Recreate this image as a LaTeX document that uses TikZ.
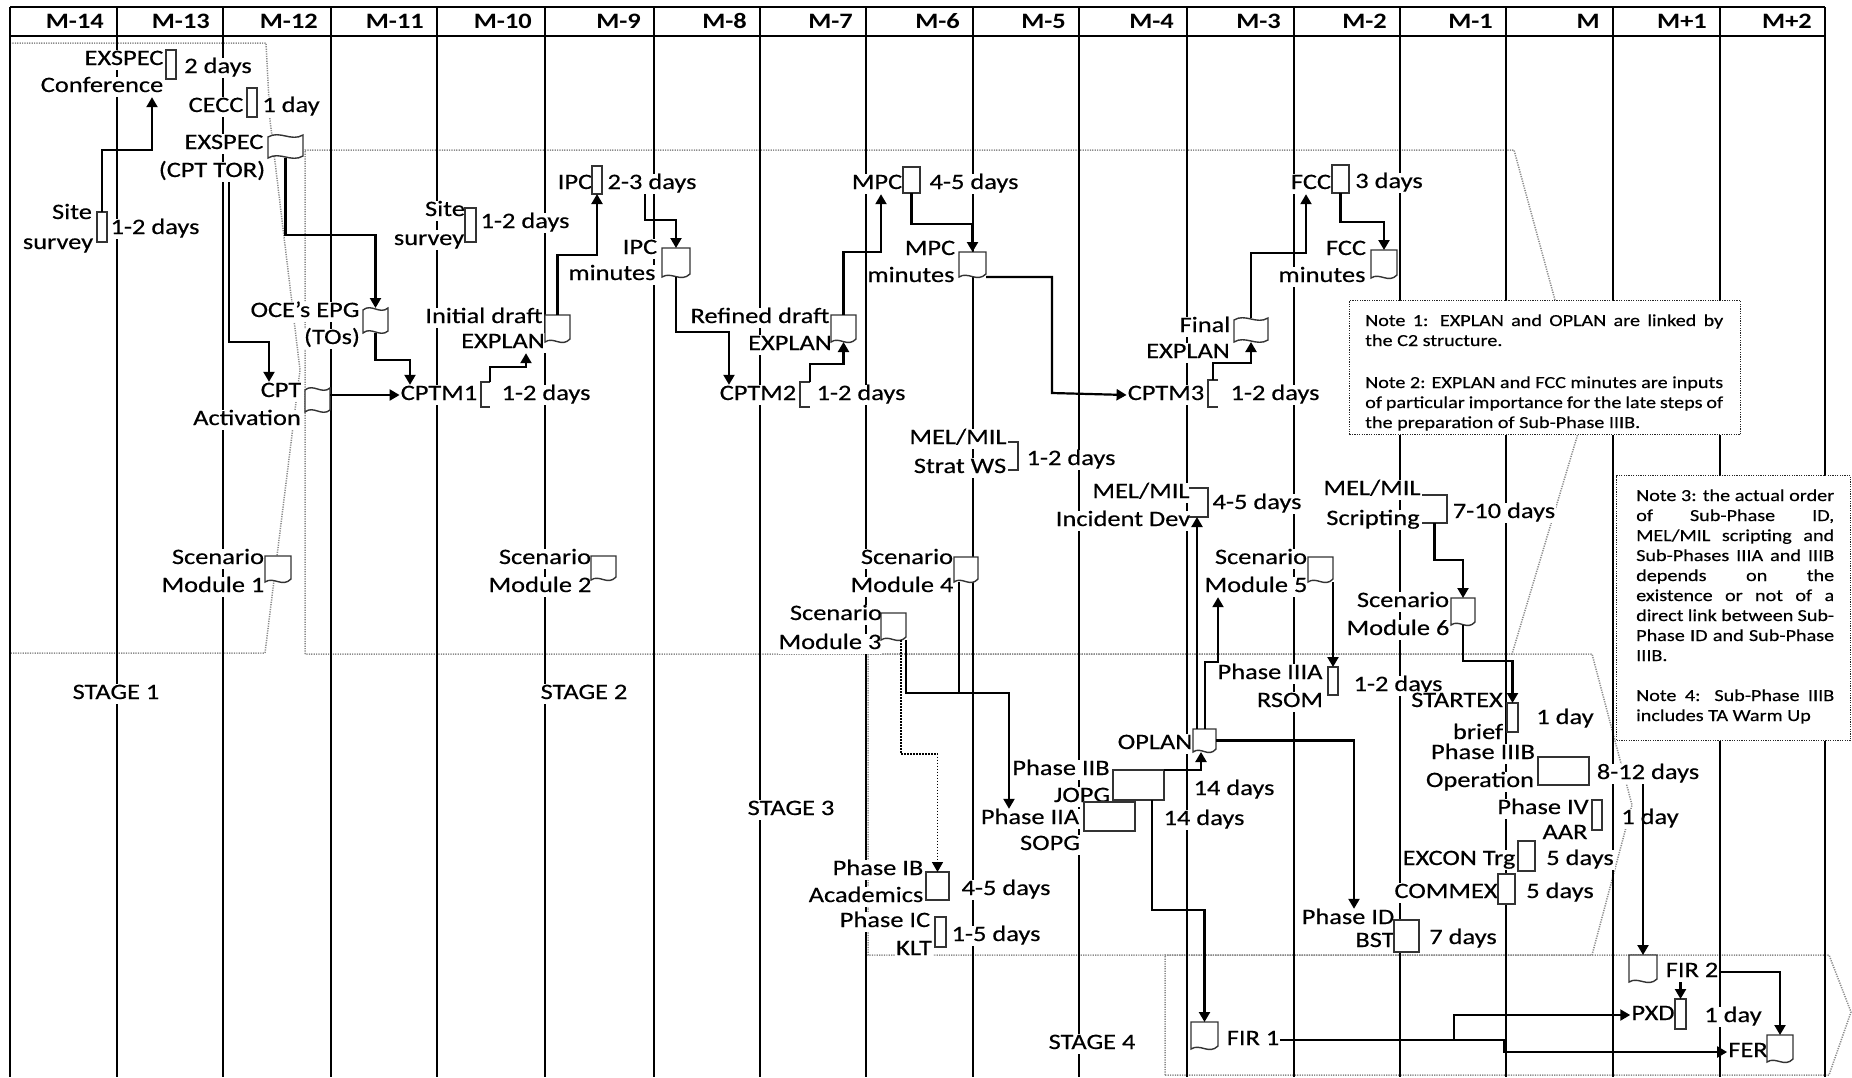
\documentclass[tikz,border=0pt]{standalone}
\usepackage{fontspec}
\setmainfont{Carlito}[FakeStretch=1.2,UprightFeatures={FakeBold=0.4}]
\usetikzlibrary{arrows.meta}
\tikzset{
 lbl/.style={fill=white, inner sep=1pt, yshift=-2pt, font=\fontsize{22}{26}\selectfont, text height=14pt, text depth=4pt},
 hdr/.style={inner sep=0pt, anchor=base east, font=\fontsize{22}{26}\selectfont\bfseries},
 notetxt/.style={inner sep=0pt, anchor=base west, font=\fontsize{16.8}{20}\selectfont},
 conn/.style={line width=2.2pt, black},
 arr/.style={conn, -{Triangle[length=10pt,width=11pt]}},
 dotarr/.style={arr, line width=1.6pt, dash pattern=on 1.5pt off 1.5pt},
 shp/.style={line width=1.4pt, draw=black!80, fill=white},
 ghost/.style={inner sep=0pt, outer sep=0pt, draw=none},
 colline/.style={line width=1.8pt, black},
 stage/.style={black!45, line width=1.5pt, dash pattern=on 1.2pt off 1.2pt},
 note/.style={draw=black!85, line width=1.3pt, dash pattern=on 1.2pt off 1.2pt, fill=white, inner sep=0pt, anchor=north west},
}
\newcommand\mkGhost[5]{\node[ghost, minimum width={(#4)-(#2)}, minimum height={(#5)-(#3)}] (#1) at ({((#2)+(#4))/2},{((#3)+(#5))/2}) {};}
\newcommand\mkRect[5]{\filldraw[shp] (#2,#3) rectangle (#4,#5); \mkGhost{#1}{#2}{#3}{#4}{#5}}
\newcommand\mkDoc[5]{\filldraw[shp] (#2,#3) -- (#4,#3) -- (#4,{#5-3}) .. controls ({#4-((#4)-(#2))/3},{#5+6}) and ({#2+((#4)-(#2))/3},{#5-6}) .. (#2,#5) -- cycle; \mkGhost{#1}{#2}{#3}{#4}{#5}}
\newcommand\mkFlag[5]{\filldraw[shp] (#2,{#3+2}) .. controls ({#2+((#4)-(#2))/3},{#3-5}) and ({#4-((#4)-(#2))/3},{#3+7}) .. (#4,#3) -- (#4,{#5-2}) .. controls ({#4-((#4)-(#2))/3},{#5+5}) and ({#2+((#4)-(#2))/3},{#5-7}) .. (#2,#5) -- cycle; \mkGhost{#1}{#2}{#3}{#4}{#5}}
\newcommand\mkBrL[5]{\draw[shp,fill=none] (#4,#3) -- (#2,#3) -- (#2,#5) -- (#4,#5); \mkGhost{#1}{#2}{#3}{#4}{#5}}
\newcommand\mkBrR[5]{\draw[shp,fill=none] (#2,#3) -- (#4,#3) -- (#4,#5) -- (#2,#5); \mkGhost{#1}{#2}{#3}{#4}{#5}}
\newcommand\lb[4]{\node[lbl] (#1) at (#2,#3) {#4};}
\begin{document}
\begin{tikzpicture}[x=1pt,y=-1pt]
\fill[white] (0,0) rectangle (1852,1077);
\useasboundingbox (0,0) rectangle (1852,1077);

% stages
\draw[stage] (10,43) -- (266,43) -- (270,120) -- (300,370) -- (265,653) -- (10,653);
\draw[stage] (305,654) -- (305,150) -- (1514,150) -- (1585,410) -- (1512,654) -- cycle;
\draw[stage] (868,654) -- (1592,654) -- (1632,805) -- (1592,955) -- (868,955) -- cycle;
\draw[stage] (1165,1075) -- (1165,955) -- (1829,955) -- (1851,1012) -- (1829,1075) -- cycle;

% grid
\foreach \x in {10,117,223,331,437,545,654,760,866,973,1079,1187,1294,1400,1506,1613,1720,1825}
  \draw[colline] (\x,7) -- (\x,1077);
\draw[colline] (10,7) -- (1825,7);
\draw[colline] (10,36) -- (1825,36);
\foreach \x/\t [count=\i] in {104/M-14,210/M-13,318/M-12,424/M-11,532/M-10,641/M-9,747/M-8,853/M-7,960/M-6,1066/M-5,1174/M-4,1281/M-3,1387/M-2,1493/M-1,1600/M,1707/M+1,1812/M+2}
  \node[hdr] (h\i) at (\x,28) {\t};

% notes
\node[note, minimum width=391pt, minimum height=134pt] (nb1) at (1349,300) {};
\node[note, minimum width=234pt, minimum height=265pt] (nb2) at (1616,475) {};
\node[notetxt] (n1) at (1365,326) {\makebox[358pt][s]{Note 1: EXPLAN and OPLAN are linked by}};
\node[notetxt] (n2) at (1365,346) {the C2 structure.};
\node[notetxt] (n3) at (1365,388) {\makebox[358pt][s]{Note 2: EXPLAN and FCC minutes are inputs}};
\node[notetxt] (n4) at (1365,408) {\makebox[358pt][s]{of particular importance for the late steps of}};
\node[notetxt] (n5) at (1365,428) {the preparation of Sub-Phase IIIB.};
\node[notetxt] (m1) at (1636,501) {\makebox[198pt][s]{Note 3: the actual order}};
\node[notetxt] (m2) at (1636,521) {\makebox[198pt][s]{of Sub-Phase ID,}};
\node[notetxt] (m3) at (1636,541) {\makebox[198pt][s]{MEL/MIL scripting and}};
\node[notetxt] (m4) at (1636,561) {\makebox[198pt][s]{Sub-Phases IIIA and IIIB}};
\node[notetxt] (m5) at (1636,581) {\makebox[198pt][s]{depends on the}};
\node[notetxt] (m6) at (1636,601) {\makebox[198pt][s]{existence or not of a}};
\node[notetxt] (m7) at (1636,621) {\makebox[198pt][s]{direct link between Sub-}};
\node[notetxt] (m8) at (1636,641) {\makebox[198pt][s]{Phase ID and Sub-Phase}};
\node[notetxt] (m9) at (1636,661) {IIIB.};
\node[notetxt] (m10) at (1636,701) {\makebox[198pt][s]{Note 4: Sub-Phase IIIB}};
\node[notetxt] (m11) at (1636,721) {includes TA Warm Up};

% labels
\lb{tExspec1}{124}{58}{EXSPEC}
\lb{tConf}{102}{85}{Conference}
\lb{tConfD}{218}{66}{2 days}
\lb{tSiteA}{72}{212}{Site}
\lb{tSiteB}{58}{242}{survey}
\lb{tSiteD}{155}{227}{1-2 days}
\lb{tCECC}{216}{105}{CECC}
\lb{tCECCD}{291}{105}{1 day}
\lb{tExspec2}{224}{142}{EXSPEC}
\lb{tTOR}{212}{170}{(CPT TOR)}
\lb{tOCEa}{305}{310}{OCE’s EPG}
\lb{tOCEb}{332}{337}{(TOs)}
\lb{tCPT}{281}{390}{CPT}
\lb{tCPTb}{247}{418}{Activation}
\lb{tSite2a}{445}{209}{Site}
\lb{tSite2b}{429}{238}{survey}
\lb{tSite2D}{525}{221}{1-2 days}
\lb{tInitA}{484}{316}{Initial draft}
\lb{tExplan1}{503}{341}{EXPLAN}
\lb{tIPC}{575}{182}{IPC}
\lb{tIPCD}{652}{182}{2-3 days}
\lb{tIPCm1}{640}{247}{IPC}
\lb{tIPCm2}{612}{273}{minutes}
\lb{tCPTM1}{439}{393}{CPTM1}
\lb{tCPTM1D}{546}{393}{1-2 days}
\lb{tRefA}{760}{316}{Refined draft}
\lb{tExplan2}{790}{343}{EXPLAN}
\lb{tCPTM2}{758}{393}{CPTM2}
\lb{tCPTM2D}{861}{393}{1-2 days}
\lb{tMPC}{877}{182}{MPC}
\lb{tMPCD}{974}{182}{4-5 days}
\lb{tMPCm1}{930}{248}{MPC}
\lb{tMPCm2}{911}{275}{minutes}
\lb{tCPTM3}{1166}{393}{CPTM3}
\lb{tCPTM3D}{1275}{393}{1-2 days}
\lb{tFinal}{1205}{325}{Final}
\lb{tExplan3}{1188}{351}{EXPLAN}
\lb{tFCC}{1311}{182}{FCC}
\lb{tFCCD}{1389}{181}{3 days}
\lb{tFCCm1}{1346}{248}{FCC}
\lb{tFCCm2}{1322}{275}{minutes}
\lb{tStratA}{958}{437}{MEL/MIL}
\lb{tStratB}{960}{466}{Strat WS}
\lb{tStratD}{1071}{458}{1-2 days}
\lb{tIncA}{1141}{491}{MEL/MIL}
\lb{tIncB}{1123}{519}{Incident Dev}
\lb{tIncD}{1257}{502}{4-5 days}
\lb{tScrA}{1372}{488}{MEL/MIL}
\lb{tScrB}{1373}{518}{Scripting}
\lb{tScrD}{1504}{511}{7-10 days}
\lb{tM1a}{218}{557}{Scenario}
\lb{tM1b}{213}{585}{Module 1}
\lb{tM2a}{545}{557}{Scenario}
\lb{tM2b}{540}{585}{Module 2}
\lb{tM4a}{907}{557}{Scenario}
\lb{tM4b}{902}{585}{Module 4}
\lb{tM3a}{836}{613}{Scenario}
\lb{tM3b}{830}{642}{Module 3}
\lb{tM5a}{1261}{557}{Scenario}
\lb{tM5b}{1256}{585}{Module 5}
\lb{tM6a}{1403}{600}{Scenario}
\lb{tM6b}{1398}{628}{Module 6}
\lb{tIIIAa}{1270}{672}{Phase IIIA}
\lb{tIIIAb}{1290}{700}{RSOM}
\lb{tIIIAD}{1398}{684}{1-2 days}
\lb{tSTXa}{1457}{700}{STARTEX}
\lb{tSTXb}{1478}{732}{brief}
\lb{tSTXD}{1565}{717}{1 day}
\lb{tIIIBa}{1483}{752}{Phase IIIB}
\lb{tIIIBb}{1480}{780}{Operation}
\lb{tIIIBD}{1648}{772}{8-12 days}
\lb{tIVa}{1543}{807}{Phase IV}
\lb{tIVb}{1565}{832}{AAR}
\lb{tIVD}{1650}{817}{1 day}
\lb{tEXCON}{1459}{858}{EXCON Trg}
\lb{tEXCOND}{1580}{858}{5 days}
\lb{tCOMMEX}{1446}{891}{COMMEX}
\lb{tCOMMEXD}{1560}{891}{5 days}
\lb{tIDa}{1348}{917}{Phase ID}
\lb{tIDb}{1375}{940}{BST}
\lb{tIDD}{1463}{937}{7 days}
\lb{tOPLAN}{1155}{742}{OPLAN}
\lb{tIIBa}{1061}{768}{Phase IIB}
\lb{tIIBb}{1082}{795}{JOPG}
\lb{tIIBD}{1234}{788}{14 days}
\lb{tIIAa}{1030}{817}{Phase IIA}
\lb{tIIAb}{1050}{843}{SOPG}
\lb{tIIAD}{1204}{818}{14 days}
\lb{tIBa}{878}{868}{Phase IB}
\lb{tIBb}{866}{895}{Academics}
\lb{tIBD}{1006}{888}{4-5 days}
\lb{tICa}{885}{920}{Phase IC}
\lb{tICb}{914}{948}{KLT}
\lb{tICD}{996}{934}{1-5 days}
\lb{tFIR1}{1253}{1038}{FIR 1}
\lb{tFIR2}{1692}{970}{FIR 2}
\lb{tPXD}{1653}{1013}{PXD}
\lb{tPXDD}{1733}{1015}{1 day}
\lb{tFER}{1748}{1050}{FER}
\lb{s1}{116}{692}{STAGE 1}
\lb{s2}{584}{692}{STAGE 2}
\lb{s3}{791}{808}{STAGE 3}
\lb{s4}{1092}{1042}{STAGE 4}

% shapes
\mkRect{bConf}{166}{50}{176}{79}
\mkRect{bCECC}{247}{88}{257}{117}
\mkRect{bSite1}{97}{212}{107}{242}
\mkRect{bSite2}{465}{208}{476}{242}
\mkRect{bIPC}{592}{166}{602}{194}
\mkRect{bMPC}{903}{167}{920}{193}
\mkRect{bFCC}{1332}{165}{1349}{193}
\mkRect{bIIIA}{1328}{667}{1338}{695}
\mkRect{bSTX}{1507}{703}{1518}{732}
\mkRect{bIIIB}{1538}{757}{1589}{785}
\mkRect{bIV}{1592}{800}{1602}{830}
\mkRect{bEXCON}{1518}{841}{1535}{871}
\mkRect{bCOMMEX}{1498}{874}{1515}{904}
\mkRect{bID}{1394}{920}{1419}{952}
\mkRect{bIIB}{1113}{770}{1164}{800}
\mkRect{bIIA}{1084}{802}{1135}{831}
\mkRect{bIB}{926}{872}{949}{900}
\mkRect{bIC}{935}{917}{946}{947}
\mkRect{bPXD}{1675}{999}{1686}{1029}
\mkDoc{dM1}{265}{556}{291}{582}
\mkDoc{dM2}{591}{556}{616}{580}
\mkDoc{dM3}{881}{613}{906}{640}
\mkDoc{dM4}{954}{557}{978}{582}
\mkDoc{dM5}{1308}{557}{1333}{582}
\mkDoc{dM6}{1451}{598}{1475}{625}
\mkDoc{dInit}{545}{315}{570}{342}
\mkDoc{dRef}{831}{315}{856}{342}
\mkDoc{dIPCm}{662}{248}{690}{277}
\mkDoc{dMPCm}{959}{252}{986}{277}
\mkDoc{dFCCm}{1371}{250}{1397}{278}
\mkDoc{dFIR1}{1191}{1022}{1218}{1049}
\mkDoc{dFIR2}{1629}{955}{1657}{982}
\mkDoc{dFER}{1767}{1035}{1793}{1062}
\mkDoc{dOPLAN}{1193}{729}{1216}{752}
\mkFlag{fEXSPEC}{268}{135}{303}{158}
\mkFlag{fOCE}{363}{308}{388}{333}
\mkFlag{fCPT}{305}{388}{330}{412}
\mkFlag{fFinal}{1234}{318}{1268}{342}
\mkBrL{kCPTM1}{481}{382}{490}{407}
\mkBrL{kCPTM2}{800}{382}{810}{407}
\mkBrL{kCPTM3}{1208}{380}{1218}{407}
\mkBrR{kStrat}{1008}{442}{1018}{470}
\mkBrR{kInc}{1189}{488}{1208}{517}
\mkBrR{kScript}{1422}{495}{1447}{523}

% connectors
\draw[arr] (bSite1.north) |- (152,150) -- (152,150 |- tConf.south);
\draw[arr] (fEXSPEC.south) |- (fOCE.north |- 0,235) -- (fOCE.north);
\draw[arr] (229,0 |- tTOR.south) |- (269,342) -- (269,0 |- tCPT.north);
\draw[arr] (fOCE.south) |- (410,360) -- (410,0 |- tCPTM1.north);
\draw[arr] (fCPT.east |- tCPTM1.west) -- (tCPTM1.west);
\draw[arr] (kCPTM1.north east) |- (526,367) -- (526,0 |- tExplan1.south);
\draw[arr] (dInit.north) |- (bIPC.south |- 0,255) -- (bIPC.south);
\draw[arr] (645,0 |- tIPCD.south) |- (dIPCm.north |- 0,220) -- (dIPCm.north);
\draw[arr] (dIPCm.south) |- (729,332) -- (729,0 |- tCPTM2.north);
\draw[arr] (kCPTM2.north east) |- (dRef.south |- 0,364) -- (dRef.south);
\draw[arr] (dRef.north) |- (881,252) -- (881,0 |- tMPC.south);
\draw[arr] (bMPC.south) |- (dMPCm.north |- 0,224) -- (dMPCm.north);
\draw[arr] (dMPCm.south east) -| (1052,393) -- (tCPTM3.west);
\draw[arr] (kCPTM3.north) |- (fFinal.south |- 0,363) -- (fFinal.south);
\draw[arr] (fFinal.north) |- (1306,253) -- (1306,0 |- tFCC.south);
\draw[arr] (bFCC.south) |- (dFCCm.north |- 0,222) -- (dFCCm.north);
\draw[arr] (959,0 |- dM4.south) |- (1009,693) -- (1009,0 |- tIIAa.north);
\draw[conn] (dM3.south east) |- (959,693);
\draw[dotarr] (dM3.south -| 901,0) |- (bIB.north |- 0,754) -- (bIB.north);
\draw[arr] (dOPLAN.north -| 1197,0) -- (kInc.south -| 1197,0);
\draw[arr] (dOPLAN.north -| 1205,0) |- (1218,662) -- (1218,0 |- tM5b.south);
\draw[arr] (dOPLAN.east) -| (1354,0 |- tIDa.north);
\draw[arr] (bIIB.north east) -| (1201,0 |- dOPLAN.south);
\draw[arr] (bIIB.south -| 1152,0) |- (dFIR1.north |- 0,910) -- (dFIR1.north);
\draw[arr] (bIIIA.north |- dM5.south) -- (bIIIA.north);
\draw[arr] (kScript.south) |- (dM6.north |- 0,560) -- (dM6.north);
\draw[arr] (dM6.south) |- (bSTX.north |- 0,661) -- (bSTX.north);
\draw[arr] (dFIR2.north |- tIIIBD.south) -- (dFIR2.north);
\draw[arr] (tFIR2.east) -| (dFER.north);
\draw[arr] (bPXD.north |- tFIR2.south) -- (bPXD.north);
\draw[arr] (tFIR1.east) -| (1454,0 |- tPXD.west) -- (tPXD.west);
\draw[arr] (tFIR1.east) -| (1504,0 |- tFER.west) -- (tFER.west);
\end{tikzpicture}
\end{document}
